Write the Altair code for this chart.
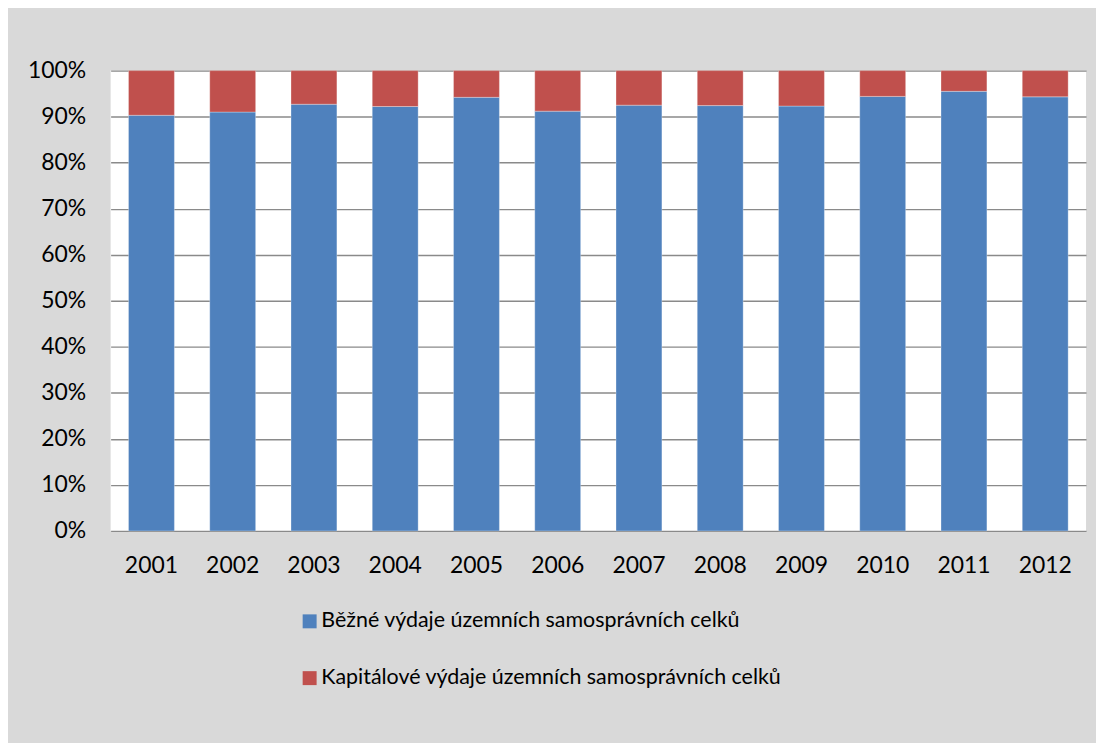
import altair as alt
import pandas as pd

years = ["2001", "2002", "2003", "2004", "2005", "2006", "2007", "2008", "2009", "2010", "2011", "2012"]
bezne = [90.3, 91.0, 92.7, 92.2, 94.2, 91.2, 92.5, 92.4, 92.3, 94.4, 95.5, 94.3]
kapitalove = [9.7, 9.0, 7.3, 7.8, 5.8, 8.8, 7.5, 7.6, 7.7, 5.6, 4.5, 5.7]
series = ["Běžné výdaje územních samosprávních celků", "Kapitálové výdaje územních samosprávních celků"]
colors = ["#4F81BD", "#C0504D"]

rows = []
for i, y in enumerate(years):
    rows.append({"rok": y, "typ": series[0], "hodnota": bezne[i], "ord": 0})
    rows.append({"rok": y, "typ": series[1], "hodnota": kapitalove[i], "ord": 1})
df = pd.DataFrame(rows)

FONT = "Lato"

chart = alt.Chart(df).mark_bar(stroke="#ffffff", strokeWidth=0.6, strokeOpacity=0.5).encode(
    x=alt.X("rok:N", sort=years, title=None,
            scale=alt.Scale(paddingInner=0.435, paddingOuter=0.22),
            axis=alt.Axis(labelAngle=0, domain=False, ticks=False, labelPadding=24,
                          labelFontSize=23, labelFont=FONT, labelColor="#000000")),
    y=alt.Y("hodnota:Q", stack="normalize", title=None,
            scale=alt.Scale(domain=[0, 1], nice=False),
            axis=alt.Axis(format="%", values=[i / 10 for i in range(11)], domain=False, ticks=False,
                          labelPadding=25, labelFontSize=23, labelFont=FONT, labelColor="#000000",
                          gridColor="#8a8a8a", gridWidth=1.4)),
    color=alt.Color("typ:N", scale=alt.Scale(domain=series, range=colors),
                    legend=alt.Legend(title=None, orient="none", legendX=189, legendY=542,
                                      direction="vertical", symbolType="square", symbolSize=196,
                                      symbolStrokeWidth=0, labelFontSize=21.5, labelFont=FONT,
                                      labelColor="#000000", rowPadding=34, labelOffset=1,
                                      labelLimit=800)),
    order=alt.Order("ord:Q", sort="ascending"),
).properties(
    width=979, height=462,
    autosize=alt.AutoSizeParams(type="none"),
    padding={"left": 103, "top": 61.5, "right": 10, "bottom": 211.5},
    background="#d9d9d9",
).configure_view(fill="#ffffff", stroke=None)

chart.save("out.html", embed_options={"renderer": "svg", "actions": False})
